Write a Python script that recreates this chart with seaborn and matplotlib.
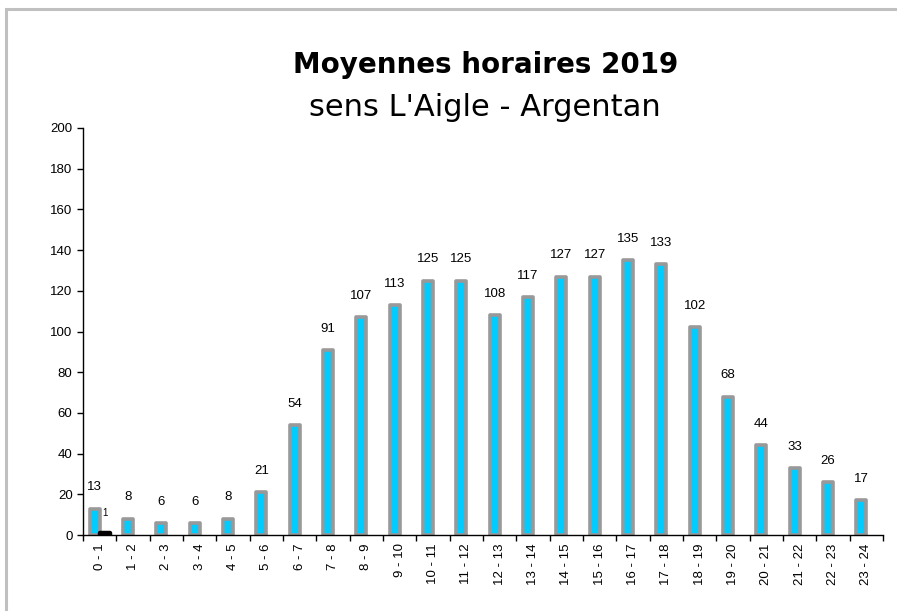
import numpy as np
import pandas as pd
import matplotlib
matplotlib.use("Agg")
import matplotlib.pyplot as plt
import seaborn as sns
from matplotlib.patches import Rectangle

hours = ["0 - 1", "1 - 2", "2 - 3", "3 - 4", "4 - 5", "5 - 6", "6 - 7", "7 - 8",
         "8 - 9", "9 - 10", "10 - 11", "11 - 12", "12 - 13", "13 - 14", "14 - 15",
         "15 - 16", "16 - 17", "17 - 18", "18 - 19", "19 - 20", "20 - 21",
         "21 - 22", "22 - 23", "23 - 24"]
moyennes = [13, 8, 6, 6, 8, 21, 54, 91, 107, 113, 125, 125, 108, 117, 127, 127,
            135, 133, 102, 68, 44, 33, 26, 17]
second = [1] + [np.nan] * 23

title = "Moyennes horaires 2019"
subtitle = "sens L'Aigle - Argentan"

df = pd.DataFrame({
    "heure": hours * 2,
    "valeur": moyennes + second,
    "serie": ["moy"] * len(hours) + ["sec"] * len(hours),
})

sns.set_style("white")
plt.rcParams["font.family"] = ["Liberation Sans", "DejaVu Sans"]
plt.rcParams["text.color"] = "black"
plt.rcParams["xtick.color"] = "black"
plt.rcParams["ytick.color"] = "black"

fig = plt.figure(figsize=(8.97, 6.11), dpi=100)
ax = fig.add_axes([83 / 897, 1 - 535 / 611, 800 / 897, (535 - 128) / 611])

sns.barplot(data=df, x="heure", y="valeur", hue="serie", order=hours,
            hue_order=["moy", "sec"], palette={"moy": "#00CCFF", "sec": "#000000"},
            saturation=1, width=0.6, dodge=True, legend=False, ax=ax, linewidth=0)

edgecols = ["#999999", "#000000"]
edgelw = [2.6, 3.2]
fsizes = [9.5, 7]
for c, ec, lw, fs in zip(ax.containers, edgecols, edgelw, fsizes):
    for p in c.patches:
        p.set_edgecolor(ec)
        p.set_linewidth(lw)
        p.set_joinstyle("round")
    labels = []
    for p in c.patches:
        h = p.get_height()
        labels.append("" if (h is None or np.isnan(h)) else f"{h:.0f}")
    ax.bar_label(c, labels=labels, padding=11, fontsize=fs, color="black")

ax.set_ylim(0, 200)
ax.set_xlim(-0.5, len(hours) - 0.5)
ax.set_yticks(np.arange(0, 201, 20))
ax.set_xticks(range(len(hours)))
ax.set_xticklabels(hours, rotation=90, fontsize=9.5)
ax.tick_params(axis="y", labelsize=9.5, length=4, width=1, direction="out", left=True,
               color="black", labelcolor="black")
ax.tick_params(axis="x", which="major", length=0, pad=6, labelcolor="black")
ax.set_xticks(np.arange(-0.5, len(hours), 1), minor=True)
ax.tick_params(axis="x", which="minor", length=4, width=1, direction="out", bottom=True, color="black")
ax.set_xlabel("")
ax.set_ylabel("")
for s in ["top", "right"]:
    ax.spines[s].set_visible(False)
for s in ["left", "bottom"]:
    ax.spines[s].set_color("black")
    ax.spines[s].set_linewidth(1)

fig.text(486 / 897, 1 - 73 / 611, title, ha="center", va="baseline",
         fontsize=20, fontweight="bold", color="black", family=["DejaVu Sans"])
fig.text(485 / 897, 1 - 116 / 611, subtitle, ha="center", va="baseline",
         fontsize=22, color="black", family=["DejaVu Sans"])

fig.patches.append(Rectangle((6 / 897, -0.2), 1.5, 1 - 9 / 611 + 0.2, fill=False,
                             edgecolor="#c0c0c0", linewidth=2.2,
                             transform=fig.transFigure, figure=fig))

fig.savefig("out.png", dpi=100)
